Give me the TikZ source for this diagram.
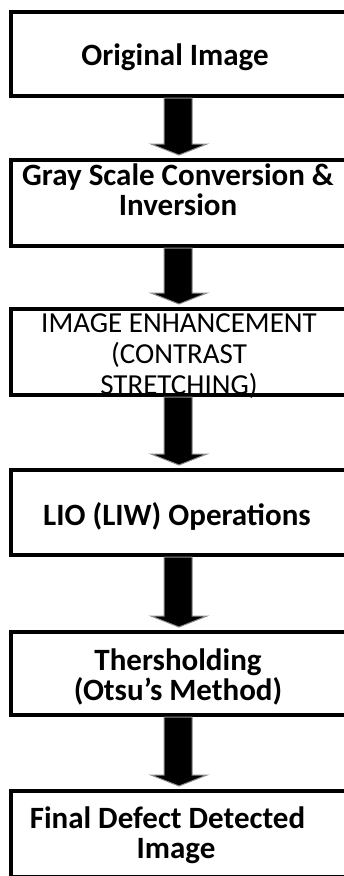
\documentclass[tikz,border=0pt]{standalone}
\usepackage{fontspec}
\setmainfont{Carlito}
\usetikzlibrary{calc}

\tikzset{
  frame/.style={draw=black, line width=4pt, minimum width=336pt, inner sep=0pt},
  lbl/.style={inner sep=0pt, align=center, anchor=base,
    font=\bfseries\fontsize{31}{30}\selectfont},
  thinlbl/.style={inner sep=0pt, align=center, anchor=base,
    font=\fontsize{29}{31}\selectfont},
  blockarrow/.style={fill=black, draw=black!45, line width=1pt, line join=miter}
}

% block arrow from the bottom of one frame to the top of the next
\newcommand{\flowarrow}[2]{%
  \path[blockarrow] let \p1=(#1.south), \p2=(#2.north) in
    (\x1-15pt,\y1) -- (\x1-15pt,\y2+14pt) -- (\x1-28pt,\y2+14pt)
    -- (\x1,\y2+3pt) -- (\x1+28pt,\y2+14pt) -- (\x1+13pt,\y2+14pt)
    -- (\x1+13pt,\y1) -- cycle;}

\begin{document}
\begin{tikzpicture}[x=1pt,y=-1pt]
\useasboundingbox[fill=white] (0,0) rectangle (343,876);

% process stages
\node[frame, minimum height=84pt] (orig)  at (179,54)    {};
\node[frame, minimum height=86pt] (gray)  at (179,203)   {};
\node[frame, minimum height=86pt] (enh)   at (179,352)   {};
\node[frame, minimum height=85pt] (lio)   at (179,512.5) {};
\node[frame, minimum height=83pt] (otsu)  at (179,673.5) {};
\node[frame, minimum height=86pt] (final) at (179,834)   {};

% connectors
\flowarrow{orig}{gray}
\flowarrow{gray}{enh}
\flowarrow{enh}{lio}
\flowarrow{lio}{otsu}
\flowarrow{otsu}{final}

% stage captions (placed on the last baseline)
\node[lbl]     (origtxt)  at (175,65)  {Original Image};
\node[lbl]     (graytxt)  at (178,215) {Gray Scale Conversion \&\\Inversion};
\node[thinlbl] (enhtxt)   at (179,394) {IMAGE ENHANCEMENT\\(CONTRAST\\STRETCHING)};
\node[lbl]     (liotxt)   at (177,525) {LIO (LIW) Operations};
\node[lbl]     (otsutxt)  at (178,700) {Thersholding\\(Otsu’s Method)};
\node[lbl]     (finaltxt) at (176,858) {Final Defect Detected\hspace*{17pt}\\Image};
\end{tikzpicture}
\end{document}
